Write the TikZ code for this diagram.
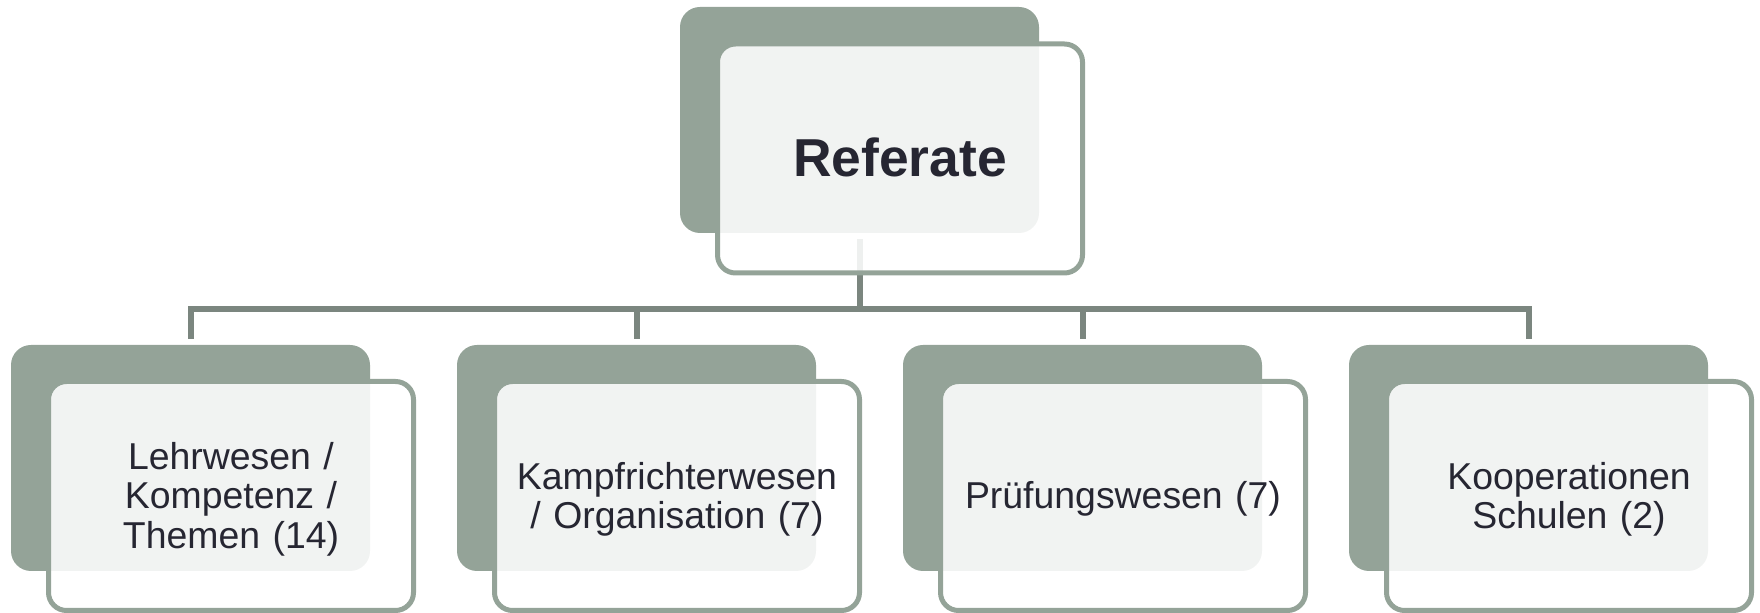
\documentclass[tikz,border=0pt]{standalone}
\usepackage{fontspec}
\setmainfont{Liberation Sans}
\usepackage{tikz}

\definecolor{sage}{RGB}{148,163,152}
\definecolor{sagedark}{RGB}{123,134,127}
\definecolor{ink}{RGB}{38,38,50}

\begin{document}
\begin{tikzpicture}[x=0.5pt, y=-0.5pt,
    backbox/.style={rectangle, rounded corners=10pt, fill=sage,
        minimum width=179.5pt, minimum height=113pt, inner sep=0pt},
    frontbox/.style={rectangle, rounded corners=9pt, draw=sage, line width=2.5pt,
        fill=white, fill opacity=0.88, text opacity=1, text=ink,
        minimum width=182.5pt, minimum height=114.5pt,
        text width=170pt, align=center,
        font=\fontsize{18.7}{19.7}\selectfont,
        execute at begin node={\rule{0pt}{0.905em}},
        execute at end node={\rule[-0.212em]{0pt}{0pt}}},
    link/.style={draw=sagedark, line width=3pt, shorten <=3pt, shorten >=3pt}]
    \useasboundingbox (0,0) rectangle (1760,613);
    \node[backbox] (b0) at (859.5,120) {};
    \node[backbox] (b1) at (190.5,458) {};
    \node[backbox] (b2) at (636.5,458) {};
    \node[backbox] (b3) at (1082.5,458) {};
    \node[backbox] (b4) at (1528.5,458) {};
    \coordinate (bus) at (859.5,309);
    \draw[link] (b0.south) -- (bus) -| (b1.north);
    \draw[link] (b0.south) -- (bus) -| (b2.north);
    \draw[link] (b0.south) -- (bus) -| (b3.north);
    \draw[link] (b0.south) -- (bus) -| (b4.north);
    \node[frontbox, font=\bfseries\fontsize{26.7}{30}\selectfont] (f0)
        at ([shift={(40.5,38.5)}]b0.center) {Referate};
    \node[frontbox] (f1) at ([shift={(40.5,38)}]b1.center) {Lehrwesen /\\Kompetenz /\\Themen (14)};
    \node[frontbox] (f2) at ([shift={(40.5,38)}]b2.center) {Kampfrichterwesen\\/ Organisation (7)};
    \node[frontbox] (f3) at ([shift={(40.5,38)}]b3.center) {Prüfungswesen (7)};
    \node[frontbox] (f4) at ([shift={(40.5,38)}]b4.center) {Kooperationen\\Schulen (2)};
\end{tikzpicture}
\end{document}
